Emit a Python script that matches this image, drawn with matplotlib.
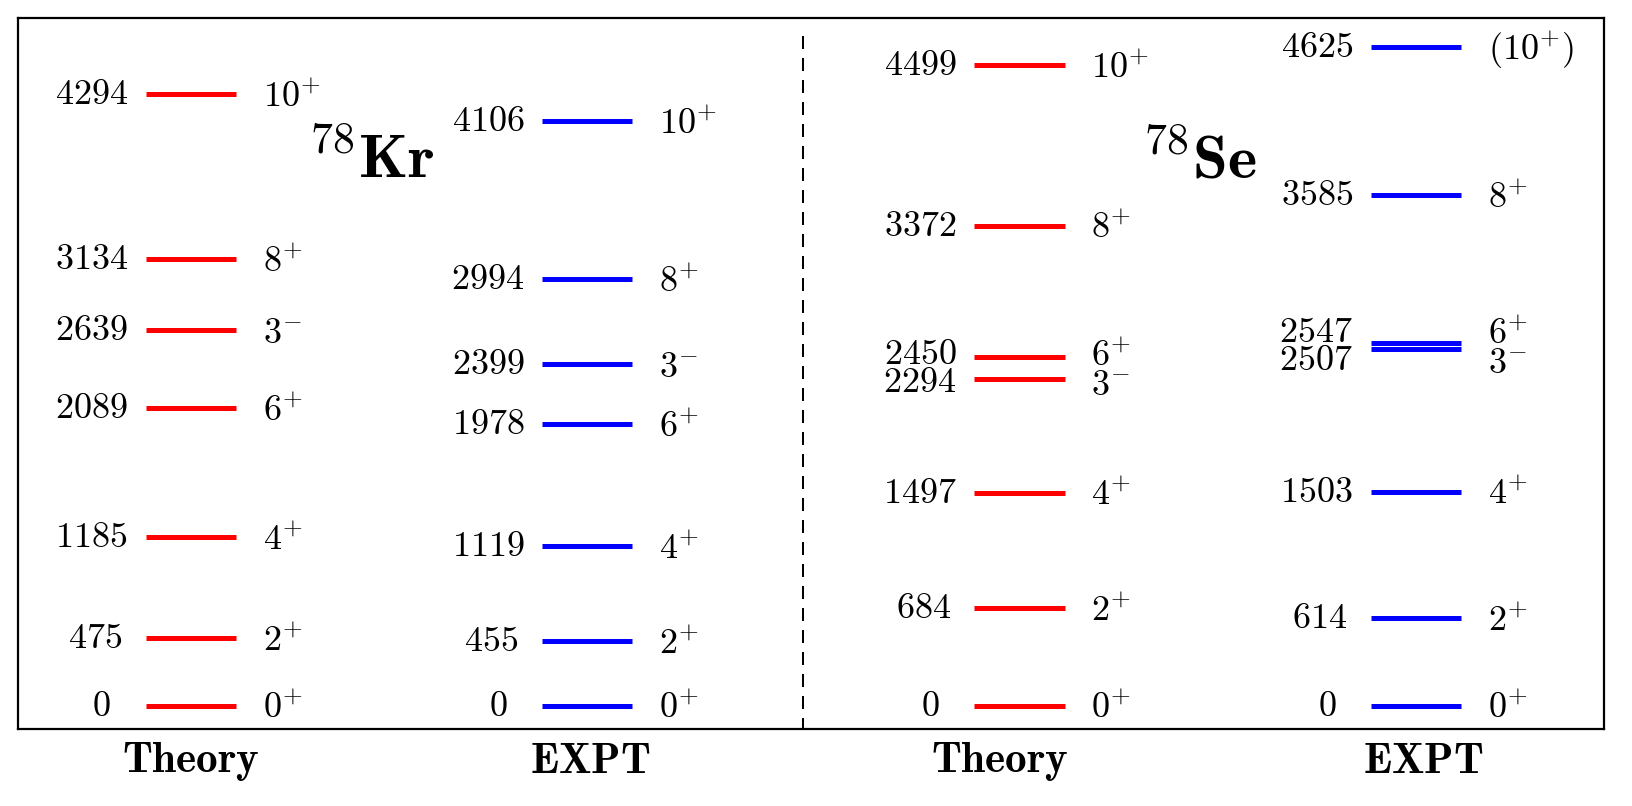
#!/usr/bin/env python3

import numpy as np
import matplotlib
matplotlib.use("Agg")
import matplotlib.pyplot as plt

# level energies (keV) and spins
kr_th_E = [0, 475, 1185, 2089, 2639, 3134, 4294]
kr_th_J = ["0^{+}", "2^{+}", "4^{+}", "6^{+}", "3^{-}", "8^{+}", "10^{+}"]

kr_ex_E = [0, 455, 1119, 1978, 2399, 2994, 4106]
kr_ex_J = ["0^{+}", "2^{+}", "4^{+}", "6^{+}", "3^{-}", "8^{+}", "10^{+}"]

se_th_E = [0, 684, 1497, 2294, 2450, 3372, 4499]
se_th_J = ["0^{+}", "2^{+}", "4^{+}", "3^{-}", "6^{+}", "8^{+}", "10^{+}"]

se_ex_E = [0, 614, 1503, 2507, 2547, 3585, 4625]
se_ex_J = ["0^{+}", "2^{+}", "4^{+}", "3^{-}", "6^{+}", "8^{+}", "(10^{+})"]

col_labels = ["Theory", "EXPT", "Theory", "EXPT"]
nuclei = ["Kr", "Se"]
mass = 78


def spread(E, d=200.0):
  # push label positions apart so close levels don't overlap
  order = np.argsort(E)
  pos = np.array(E, dtype=float)[order]
  for _ in range(20):
    for i in range(1, len(pos)):
      if pos[i] - pos[i - 1] < d:
        mid = 0.5 * (pos[i] + pos[i - 1])
        pos[i - 1] = mid - d / 2
        pos[i] = mid + d / 2
  out = np.empty_like(pos)
  out[order] = pos
  return out


def draw_column(ax, xc, E, J, color, hw=0.0284):
  ylab = spread(E)
  for e, j, yl in zip(E, J, ylab):
    ax.plot([xc - hw, xc + hw], [e, e], color=color, lw=1.8, solid_capstyle="butt")
    s = str(e)
    pad = 6.5 + (4 - len(s)) * 2.0
    ax.annotate(r"$%s$" % s, xy=(xc - hw, yl), xytext=(-pad, 0), textcoords="offset points",
                ha="right", va="center", fontsize=13)
    ax.annotate(r"$%s$" % j, xy=(xc + hw, yl), xytext=(9.7, -1.0), textcoords="offset points",
                ha="left", va="center", fontsize=13)


def main():
  plt.rcParams["mathtext.fontset"] = "cm"
  plt.rcParams["font.family"] = "serif"

  fig = plt.figure(figsize=(8.16, 4.03), dpi=200)
  ax = fig.add_axes([0.011, 0.0955, 0.9718, 0.8822])

  xcols = [0.109, 0.359, 0.6315, 0.8815]
  draw_column(ax, xcols[0], kr_th_E, kr_th_J, "#ff0000")
  draw_column(ax, xcols[1], kr_ex_E, kr_ex_J, "#0000ff")
  draw_column(ax, xcols[2], se_th_E, se_th_J, "#ff0000")
  draw_column(ax, xcols[3], se_ex_E, se_ex_J, "#0000ff")

  ymin, ymax = -164, 4830
  # separator between the two nuclei
  ax.plot([0.495, 0.495], [4700, ymin], color="k", lw=0.72, ls=(0, (6.5, 4.5)))

  ax.text(0.2226, 3706, r"$^{%d}\mathbf{%s}$" % (mass, nuclei[0]), ha="center", va="baseline", fontsize=22.5)
  ax.text(0.745, 3706, r"$^{%d}\mathbf{%s}$" % (mass, nuclei[1]), ha="center", va="baseline", fontsize=22.5)

  ax.set_xlim(0, 1)
  ax.set_ylim(ymin, ymax)
  ax.set_yticks([])
  ax.set_xticks([0.109, 0.361, 0.619, 0.886])
  ax.set_xticklabels([r"$\mathbf{%s}$" % c for c in col_labels], fontsize=15.5)
  ax.tick_params(axis="x", length=0, pad=4)

  fig.savefig("out.png", dpi=200)


if __name__ == "__main__":
  main()
